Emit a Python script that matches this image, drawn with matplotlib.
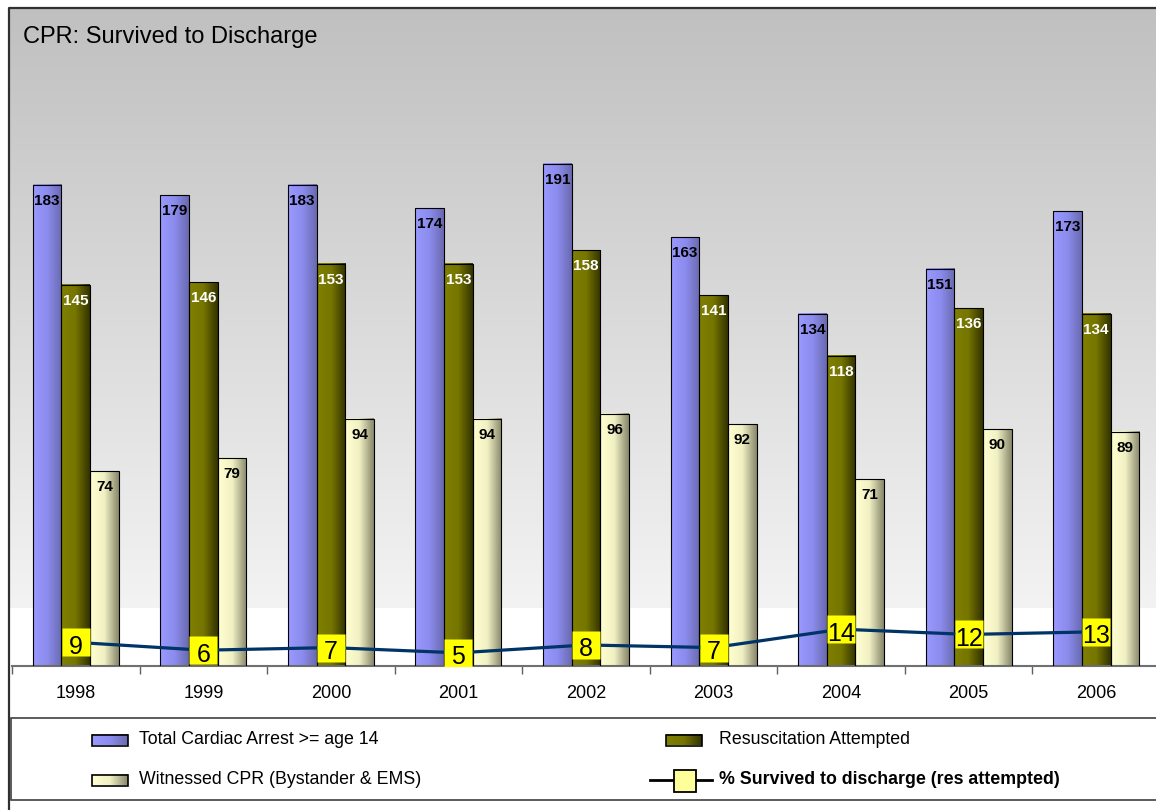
import numpy as np
import matplotlib
matplotlib.use('Agg')
import matplotlib.pyplot as plt
from matplotlib.colors import LinearSegmentedColormap
from matplotlib.patches import Rectangle

# data
years = ['1998', '1999', '2000', '2001', '2002', '2003', '2004', '2005', '2006']
total_arrest = [183, 179, 183, 174, 191, 163, 134, 151, 173]
resus_attempted = [145, 146, 153, 153, 158, 141, 118, 136, 134]
witnessed_cpr = [74, 79, 94, 94, 96, 92, 71, 90, 89]
pct_survived = [9, 6, 7, 5, 8, 7, 14, 12, 13]

series_names = ['Total Cardiac Arrest >= age 14', 'Resuscitation Attempted',
                'Witnessed CPR (Bystander & EMS)']
line_name = '% Survived to discharge (res attempted)'

plt.rcParams['font.family'] = ['Liberation Sans', 'DejaVu Sans']

W, H = 1156, 810
fig = plt.figure(figsize=(W / 100, H / 100), dpi=100)

# gradient colour maps for the bars (light on the left, dark on the right)
cmaps = [
    LinearSegmentedColormap.from_list('blue', ['#9a9aff', '#8c8cee', '#6a6ab0']),
    LinearSegmentedColormap.from_list('olive', ['#808000', '#757500', '#333300']),
    LinearSegmentedColormap.from_list('cream', ['#ffffd0', '#f0f0c4', '#88886c']),
]
label_colors = ['black', 'white', 'black']
hgrad = np.linspace(0, 1, 64).reshape(1, -1)

# background layer in pixel coordinates
bg = fig.add_axes([0, 0, 1, 1], zorder=0)
bg.axis('off')
bg_cmap = LinearSegmentedColormap.from_list('bg', ['#c0c0c0', '#f3f3f3'])
bg.imshow(np.linspace(0, 1, 256).reshape(-1, 1), cmap=bg_cmap,
          extent=(9, W, 608, 8), aspect='auto', origin='upper', zorder=0)
bg.plot([9, 9, W], [H, 8, 8], color='#303030', lw=1.6, zorder=1)
bg.add_patch(Rectangle((11, 718), W, 82, facecolor='white', edgecolor='#404040',
                       lw=1.2, zorder=1))

fig.text(23 / W, 1 - 43 / H, 'CPR: Survived to Discharge', fontsize=17, va='baseline')

# legend drawn by hand so the swatches keep their gradients
leg_items = [(92, 740, 0), (666, 740, 1), (92, 780, 2)]
for x0, yc, k in leg_items:
    w = 36
    bg.imshow(hgrad, cmap=cmaps[k], extent=(x0, x0 + w, yc + 5.5, yc - 5.5),
              aspect='auto', zorder=2)
    bg.add_patch(Rectangle((x0, yc - 5.5), w, 11, facecolor='none', edgecolor='black',
                           lw=1.2, zorder=3))
    bg.text(x0 + w + 11 if k != 1 else 719, yc, series_names[k], fontsize=12.8,
            va='center', zorder=3)
bg.plot([650, 712], [780, 780], color='black', lw=2, zorder=3)
bg.plot([685], [781], marker='s', ms=15.5, mfc='#ffff99', mec='black', mew=1.3, zorder=4)
bg.text(719, 780, line_name, fontsize=12.8, fontweight='bold', va='center', zorder=3)
bg.set_xlim(0, W)
bg.set_ylim(H, 0)

# main chart
ax = fig.add_axes([12 / W, (H - 666) / H, 1148 / W, (666 - 100) / H], zorder=1)
ax.set_facecolor('none')
x = np.arange(len(years))
bw = 0.225
for k, vals in enumerate([total_arrest, resus_attempted, witnessed_cpr]):
    bars = ax.bar(x + (k - 1) * bw, vals, bw, facecolor='none', edgecolor='black',
                  lw=0.8, zorder=3)
    for p, v in zip(bars.patches, vals):
        x0, w = p.get_x(), p.get_width()
        ax.imshow(hgrad, cmap=cmaps[k], extent=(x0, x0 + w, 0, v), aspect='auto',
                  origin='lower', zorder=2)
        ax.annotate(str(v), (x0 + w / 2, v), xytext=(0, -16), textcoords='offset pixels',
                    ha='center', va='center', fontsize=11, fontweight='bold',
                    color=label_colors[k], zorder=4)

ax.plot(x, pct_survived, color='#003366', lw=2.3, marker='s', ms=19.8,
        mfc='#ffff00', mec='none', zorder=5)
for xi, v in zip(x, pct_survived):
    ax.annotate(str(v), (xi, v), xytext=(0, -2), textcoords='offset pixels',
                ha='center', va='center_baseline', fontsize=18, zorder=6)

ax.set_xlim(-0.5, len(years) - 0.5)
ax.set_ylim(0, 566 / 2.63)
ax.set_xticks(x)
ax.set_xticklabels(years, fontsize=13)
ax.set_xticks(np.arange(-0.5, len(years), 1), minor=True)
ax.tick_params(axis='x', which='major', length=0, pad=14)
ax.tick_params(axis='x', which='minor', length=6, width=1, color='#606060', direction='out')
ax.set_yticks([])
for s in ['left', 'top', 'right']:
    ax.spines[s].set_visible(False)
ax.spines['bottom'].set_color('#707070')
ax.spines['bottom'].set_linewidth(1.5)

fig.savefig('out.png', dpi=100)
